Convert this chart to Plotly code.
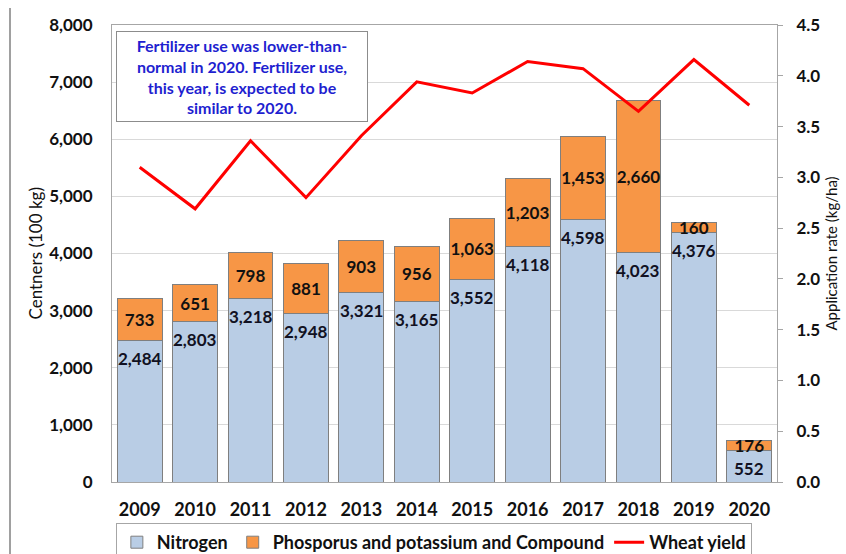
import plotly.graph_objects as go

years = ["2009", "2010", "2011", "2012", "2013", "2014", "2015", "2016", "2017", "2018", "2019", "2020"]
nitrogen = [2484, 2803, 3218, 2948, 3321, 3165, 3552, 4118, 4598, 4023, 4376, 552]
phos_pot_compound = [733, 651, 798, 881, 903, 956, 1063, 1203, 1453, 2660, 160, 176]
wheat_yield = [3.10, 2.69, 3.36, 2.80, 3.41, 3.94, 3.83, 4.14, 4.07, 3.65, 4.16, 3.71]

FONT = "Lato"
fig = go.Figure()

fig.add_trace(go.Bar(
    x=years, y=nitrogen, name="Nitrogen",
    marker=dict(color="#b9cde5", line=dict(color="#7f7f7f", width=1)),
    textposition="none",
))
fig.add_trace(go.Bar(
    x=years, y=phos_pot_compound, name="Phosporus and potassium and Compound",
    marker=dict(color="#f79646", line=dict(color="#7f7f7f", width=1)),
    text=[f"{v:,}" for v in phos_pot_compound], textposition="inside", insidetextanchor="middle",
    textangle=0, textfont=dict(family=FONT, size=17, color="#111111", weight="bold"),
))
fig.add_trace(go.Scatter(
    x=years, y=wheat_yield, name="Wheat yield", yaxis="y2", mode="lines",
    line=dict(color="#ff0000", width=3),
))

# nitrogen labels just below the top of each nitrogen bar (x = category index)
for i, v in enumerate(nitrogen):
    fig.add_annotation(
        x=i, y=v, xref="x", yref="y", text=f"{v:,}", showarrow=False,
        yanchor="middle", yshift=-18,
        font=dict(family=FONT, size=17, color="#111122", weight="bold"),
    )

fig.update_layout(
    width=846, height=554,
    margin=dict(l=112, r=69, t=25, b=72),
    paper_bgcolor="white", plot_bgcolor="white",
    barmode="stack", bargap=0.19,
    uniformtext=dict(minsize=17, mode="show"),
    font=dict(family=FONT, size=16, color="#111111"),
    xaxis=dict(
        type="category",
        showline=True, linecolor="#a6a6a6", mirror=True, ticks="", automargin=False,
        tickfont=dict(family=FONT, size=18, weight="bold"), ticklabelstandoff=11,
    ),
    yaxis=dict(
        range=[0, 8000], dtick=1000, tickformat=",", gridcolor="#d9d9d9",
        showline=True, linecolor="#a6a6a6", ticks="", zeroline=False, automargin=False,
        tickfont=dict(family=FONT, size=17, weight="bold"), ticklabelstandoff=15,
    ),
    yaxis2=dict(
        range=[0, 4.5], dtick=0.5, tickformat=".1f", overlaying="y", side="right",
        showgrid=False, showline=True, linecolor="#a6a6a6", ticks="outside",
        ticklen=5, tickcolor="#a6a6a6", zeroline=False, automargin=False,
        tickfont=dict(family=FONT, size=17, weight="bold"), ticklabelstandoff=10,
    ),
    legend=dict(
        orientation="h", x=0.484, xanchor="center",
        yref="container", y=1 - 523 / 554, yanchor="top",
        bgcolor="white", bordercolor="#a6a6a6", borderwidth=1,
        font=dict(family=FONT, size=18, weight="bold"), traceorder="normal",
        itemwidth=30,
    ),
    showlegend=True,
)

# axis titles
fig.add_annotation(
    xref="paper", yref="paper", x=(35 - 112) / 665, y=0.5, xanchor="center", yanchor="middle",
    text="Centners (100 kg)", textangle=-90, showarrow=False,
    font=dict(family=FONT, size=17, color="#111111"),
)
fig.add_annotation(
    xref="paper", yref="paper", x=(830 - 112) / 665, y=0.5, xanchor="center", yanchor="middle",
    text="Application rate (kg/ha)", textangle=-90, showarrow=False,
    font=dict(family=FONT, size=15, color="#111111"),
)

fig.add_annotation(
    xref="paper", yref="paper", x=0.006, y=0.987, xanchor="left", yanchor="top",
    text="Fertilizer use was lower-than-<br>normal in 2020. Fertilizer use,<br>this year, is expected to be<br>similar to 2020.",
    showarrow=False, align="center", width=242,
    font=dict(family=FONT, size=16, color="#1f1fd0", weight="bold"),
    bgcolor="white", bordercolor="#8c8c8c", borderwidth=1, borderpad=4,
)

fig.add_shape(type="line", xref="paper", yref="paper", x0=(10 - 112) / 665, x1=(10 - 112) / 665,
              y0=1.037, y1=-0.16, line=dict(color="#808080", width=1.5))

fig.write_html("out.html", config={"displayModeBar": False},
               post_script="document.body.style.margin='0';")
